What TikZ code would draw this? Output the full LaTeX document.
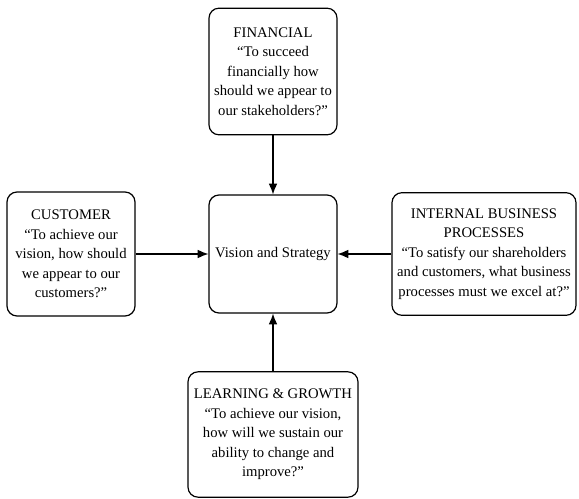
\documentclass[tikz,border=0pt]{standalone}
\usepackage{fontspec}
\setmainfont{Liberation Serif}
\usepackage{tikz}
\usetikzlibrary{arrows.meta}

\begin{document}
\begin{tikzpicture}[x=0.75pt,y=-0.75pt,
    persp/.style={draw=black, line width=0.9pt, rounded corners=7.5pt, align=center,
      inner sep=2pt, font=\fontsize{11}{14.6}\selectfont},
    link/.style={-{Latex[length=8pt,width=6.5pt]}, line width=0.9pt}]
   \useasboundingbox (0,0) rectangle (579,499);

   \node[persp, minimum width=96pt, minimum height=88.5pt] (vis) at (273,254) {Vision and Strategy};

   \node[persp, minimum width=96pt, minimum height=95pt] (fin) at (273,71.5)
     {FINANCIAL\\ “To succeed\\ financially how\\ should we appear to\\ our stakeholders?”};
   \node[persp, minimum width=96pt, minimum height=93pt] (cust) at (71,254)
     {CUSTOMER\\ “To achieve our\\ vision, how should\\ we appear to our\\ customers?”};
   \node[persp, minimum width=138pt, minimum height=92pt] (intl) at (484,254)
     {INTERNAL BUSINESS\\ PROCESSES\\ “To satisfy our shareholders\\ and customers, what business\\ processes must we excel at?”};
   \node[persp, minimum width=127.5pt, minimum height=94pt] (learn) at (273,434.5)
     {LEARNING \& GROWTH\\ “To achieve our vision,\\ how will we sustain our\\ ability to change and\\ improve?”};

   \draw[link] (fin) -- (vis);
   \draw[link] (cust) -- (vis);
   \draw[link] (intl) -- (vis);
   \draw[link] (learn) -- (vis);
\end{tikzpicture}
\end{document}
